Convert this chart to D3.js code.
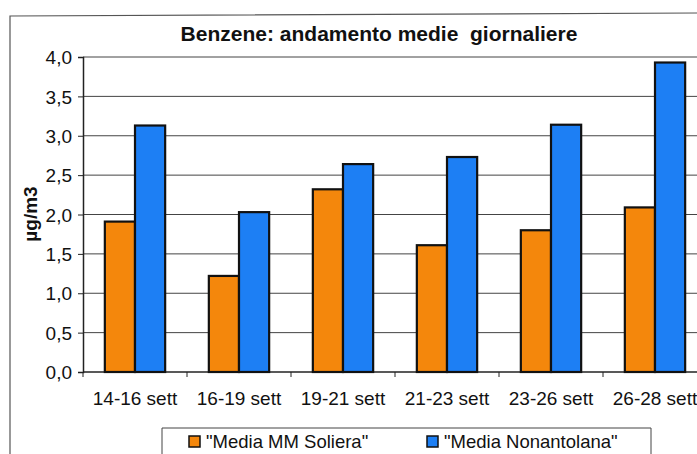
<!DOCTYPE html>
<html>
<head>
<meta charset="utf-8">
<script src="https://cdn.jsdelivr.net/npm/d3@7"></script>
<style>
  body { margin: 0; background: #fff; }
  text { font-family: "Liberation Sans", Arial, sans-serif; }
</style>
</head>
<body>
<svg id="chart" width="697" height="454"></svg>
<script>
// data
const categories = ["14-16 sett", "16-19 sett", "19-21 sett", "21-23 sett", "23-26 sett", "26-28 sett"];
const seriesNames = ['"Media MM Soliera"', '"Media Nonantolana"'];
const soliera = [1.91, 1.22, 2.32, 1.61, 1.80, 2.09];
const nonantolana = [3.13, 2.03, 2.64, 2.73, 3.14, 3.93];
const yTicks = [0, 0.5, 1, 1.5, 2, 2.5, 3, 3.5, 4];

const colors = ["#f4870c", "#1d7ff4"];

const svg = d3.select("#chart");

// outer chart frame (runs off the right and bottom of the scan)
svg.append("path")
    .attr("d", "M10,460 L10,16 L700,13")
    .attr("fill", "none")
    .attr("stroke", "#555")
    .attr("stroke-width", 1.2);

const margin = { left: 83, top: 57, bottom: 372 };
const plotRight = 707;

const x = d3.scaleBand()
    .domain(categories)
    .range([margin.left, plotRight])
    .paddingInner(0.42)
    .paddingOuter(0.21);

const sub = d3.scaleBand()
    .domain([0, 1])
    .range([0, x.bandwidth()]);

const y = d3.scaleLinear()
    .domain([0, 4])
    .range([margin.bottom, margin.top]);

// gridlines
svg.append("g")
    .selectAll("line")
    .data(yTicks.filter(d => d > 0))
    .join("line")
    .attr("x1", margin.left)
    .attr("x2", plotRight)
    .attr("y1", d => y(d))
    .attr("y2", d => y(d))
    .attr("stroke", "#444")
    .attr("stroke-width", 1);

// y axis
const yAxis = svg.append("g")
    .attr("transform", `translate(${margin.left},0)`)
    .call(d3.axisLeft(y).tickValues(yTicks).tickSize(5).tickPadding(6)
        .tickFormat(d => d3.format(".1f")(d).replace(".", ",")));
yAxis.select(".domain").attr("stroke", "#222").attr("stroke-width", 1.5);
yAxis.selectAll(".tick line").attr("stroke", "#222");
yAxis.selectAll("text")
    .attr("font-size", 19)
    .attr("dy", "0.35em")
    .attr("fill", "#111")
    .style("font-family", "Liberation Sans, Arial, sans-serif");

// x axis with ticks between categories
const xAxis = svg.append("g")
    .attr("transform", `translate(0,${margin.bottom})`);
xAxis.append("line")
    .attr("x1", margin.left).attr("x2", plotRight)
    .attr("stroke", "#222").attr("stroke-width", 1.5);
const step = x.step();
xAxis.selectAll("line.tk")
    .data(d3.range(categories.length + 1))
    .join("line")
    .attr("class", "tk")
    .attr("x1", i => margin.left + i * step)
    .attr("x2", i => margin.left + i * step)
    .attr("y1", 0).attr("y2", 5)
    .attr("stroke", "#222");
xAxis.selectAll("text")
    .data(categories)
    .join("text")
    .attr("x", d => x(d) + x.bandwidth() / 2)
    .attr("y", 33)
    .attr("text-anchor", "middle")
    .attr("font-size", 19)
    .attr("fill", "#111")
    .text(d => d);

// bars
const rows = categories.map((c, i) => ({ cat: c, vals: [soliera[i], nonantolana[i]] }));
svg.append("g")
    .selectAll("g")
    .data(rows)
    .join("g")
    .attr("transform", d => `translate(${x(d.cat)},0)`)
    .selectAll("rect")
    .data(d => d.vals.map((v, k) => ({ v, k })))
    .join("rect")
    .attr("x", d => sub(d.k))
    .attr("y", d => y(d.v))
    .attr("width", sub.bandwidth())
    .attr("height", d => y(0) - y(d.v))
    .attr("fill", d => colors[d.k])
    .attr("stroke", "#111")
    .attr("stroke-width", 2.2);

// title
svg.append("text")
    .attr("x", 379)
    .attr("y", 41)
    .attr("text-anchor", "middle")
    .attr("font-size", 21)
    .attr("font-weight", "bold")
    .attr("fill", "#111")
    .attr("xml:space", "preserve")
    .text("Benzene: andamento medie  giornaliere");

// y axis title
svg.append("text")
    .attr("transform", "translate(37,214) rotate(-90)")
    .attr("text-anchor", "middle")
    .attr("font-size", 19)
    .attr("font-weight", "bold")
    .attr("fill", "#111")
    .text("µg/m3");

// legend
const legend = svg.append("g");
legend.append("path")
    .attr("d", "M162,460 L162,428 L651,428 L651,460")
    .attr("fill", "#fff")
    .attr("stroke", "#444");
const legendX = [189, 427];
seriesNames.forEach((name, i) => {
    legend.append("rect")
        .attr("x", legendX[i]).attr("y", 436)
        .attr("width", 11).attr("height", 11)
        .attr("fill", colors[i])
        .attr("stroke", "#111").attr("stroke-width", 1.5);
    legend.append("text")
        .attr("x", legendX[i] + 17).attr("y", 448)
        .attr("font-size", 18.5)
        .attr("fill", "#111")
        .text(name);
});
</script>
</body>
</html>
